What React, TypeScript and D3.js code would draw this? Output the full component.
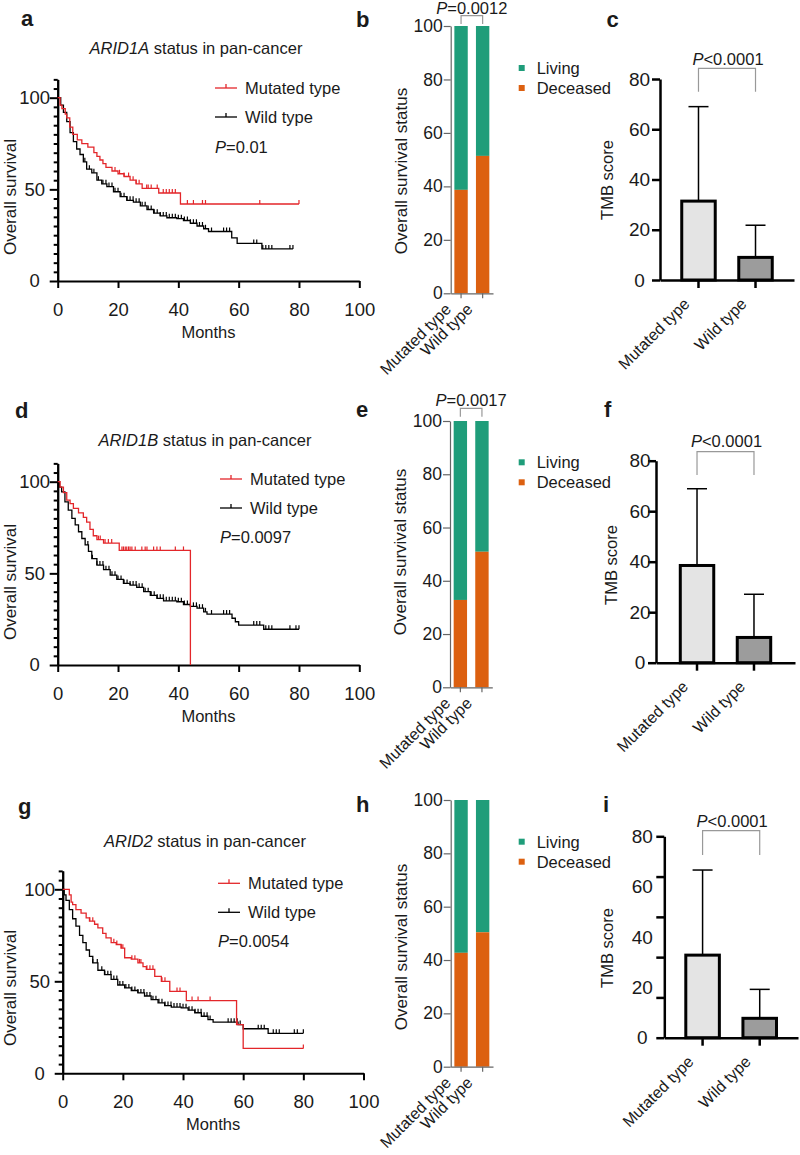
import * as d3 from "d3";
import { useEffect, useRef } from "react";

const FONT = "'Liberation Sans', Arial, Helvetica, sans-serif";
const RED = "#e3262a";
const GREEN = "#1f9d7a";
const ORANGE = "#dc6010";
const INK = "#1a1a1a";

const GROUPS = ["Mutated type", "Wild type"];

// Kaplan-Meier steps: [month, % surviving]
const ARID1A_MUT = [[0, 100], [0.8, 96], [1.4, 94], [2.5, 91], [3, 89], [4, 84], [5, 80], [6.5, 77], [8, 75], [10, 73], [12, 70], [13, 68], [14, 66], [15, 64], [16, 62], [18, 60], [20, 58.5], [22, 57], [24, 55], [26, 53], [28, 50.5], [33.5, 48], [40.7, 42], [80, 42]];
const ARID1A_WT = [[0, 100], [1, 96], [1.9, 92], [3, 87], [4.1, 81], [5.2, 76], [6.3, 72], [7.4, 69], [8.5, 65], [9.6, 61], [11.3, 59], [13, 55], [14.6, 53], [16.3, 51.5], [18.5, 48.7], [20.7, 46], [22.9, 44], [25.1, 43], [27.4, 41], [29.6, 39], [31.8, 37], [34, 35.5], [36.2, 34.5], [39.5, 34], [41.7, 33], [44, 31.5], [46.2, 30], [48.4, 28.5], [50, 27], [57.7, 23.5], [59.5, 20.5], [67.7, 17.5], [78, 17.5]];
const ARID1A_MUT_CENSOR = [19, 20.5, 22, 23.5, 25, 26, 27, 29.5, 30, 31, 33, 35, 36, 37, 38, 39, 43, 45, 48, 49, 67, 80];
const ARID1A_WT_CENSOR = [9, 10.5, 12, 13.5, 15, 16, 17, 18, 19, 20, 21, 22, 23, 24, 25, 26, 27, 28, 29, 30, 31, 32, 33, 34, 35, 36, 37, 38, 39, 40, 41, 42, 43, 44, 45, 46, 47, 48, 49, 51, 55, 56, 57, 65, 66, 68, 69, 70, 71, 77, 78];

const ARID1B_MUT = [[0, 100], [0.8, 97], [1.9, 94], [3, 90], [4.1, 88], [5.2, 85.5], [6.9, 83], [8.5, 80.5], [9.6, 78], [10.7, 74], [11.8, 70.5], [13, 68.4], [15.2, 66.5], [20.4, 62.5], [44, 0]];
const ARID1B_WT = [[0, 100], [0.6, 97], [1.3, 94.5], [2.4, 89], [3.5, 84.5], [4.7, 80], [5.8, 76.4], [6.9, 72.7], [8, 69], [9.1, 65.5], [10.2, 62], [11.3, 58], [13, 54.5], [15.2, 52], [17.4, 49], [19.6, 46.7], [21.8, 44.5], [24, 43.6], [26.2, 42.4], [28.5, 40], [30.7, 38], [32.9, 36.4], [35.1, 35], [39.5, 34.5], [41.7, 33], [44, 32], [46.2, 31], [48.4, 29], [49.5, 27.8], [57.8, 25.5], [58.9, 23.6], [60, 21.8], [68.3, 19.5], [80, 19.5]];
const ARID1B_MUT_CENSOR = [13.5, 14.1, 15.7, 16.8, 17.9, 21.3, 21.8, 22.4, 22.9, 23.5, 24, 24.6, 25.7, 27.9, 29, 29.6, 31.8, 32.9, 34, 39, 41.7];
const ARID1B_WT_CENSOR = [10, 11.5, 13, 14, 15, 16, 17, 18, 19, 20, 21, 22, 23, 24, 25, 26, 27, 28, 29, 30, 31, 32, 33, 34, 35, 36, 37, 38, 39, 40, 41, 42, 43, 44, 45, 46, 47, 48, 49, 51, 55, 56, 57, 65, 66, 67, 69, 70, 71, 77, 79, 80];

const ARID2_MUT = [[0, 100], [2.2, 97], [2.8, 93], [3.3, 91.7], [4.4, 89], [6.1, 87], [7.8, 84.5], [8.9, 82.7], [10.6, 81], [11.7, 79], [13.3, 76], [14.4, 73.6], [16.1, 71], [17.8, 70], [19.4, 68], [20.6, 62.8], [22.8, 62], [25, 60], [26.7, 58], [27.8, 56.5], [30.6, 52.7], [32.8, 50], [35.6, 44.5], [41.1, 39.5], [57.8, 26.5], [60, 13.5], [80, 13.5]];
const ARID2_WT = [[0, 100], [0.5, 97], [1.1, 94], [2.2, 89], [3.3, 84], [4.4, 80], [5.6, 75], [6.7, 71], [7.8, 67], [8.9, 63.5], [10, 60], [11.7, 56], [13.9, 53.6], [16.1, 51], [18.3, 48], [20.6, 46.4], [22.8, 45], [25, 43.7], [27.2, 42], [29.4, 40], [31.7, 38.3], [33.9, 36.8], [36.1, 36], [39.4, 35.6], [41.7, 34.3], [43.9, 32.9], [46.1, 31], [48.3, 29.2], [50, 27.8], [58.3, 26.5], [60, 24.2], [68.3, 21.7], [80, 21.7]];
const ARID2_MUT_CENSOR = [9, 10, 17, 18, 19.5, 20, 23, 24, 25.5, 26, 28, 29, 30, 33, 34, 38, 39, 43, 45, 49, 58, 80];
const ARID2_WT_CENSOR = [10, 11.5, 13, 14, 15, 16, 17, 18, 19, 20, 21, 22, 23, 24, 25, 26, 27, 28, 29, 30, 31, 32, 33, 34, 35, 36, 37, 38, 39, 40, 41, 42, 43, 44, 45, 46, 47, 48, 49, 55, 56, 57, 58, 59, 65, 66, 67, 70, 71, 72, 77, 78, 80];

// % deceased per group (living is the rest)
const DECEASED_ARID1A = [38.7, 51.4];
const DECEASED_ARID1B = [32.8, 50.9];
const DECEASED_ARID2 = [42.7, 50.4];

// TMB score mean and SD per group
const TMB_MEAN_ARID1A = [31.4, 9.0];
const TMB_SD_ARID1A = [37.6, 12.8];
const TMB_MEAN_ARID1B = [38.5, 10.0];
const TMB_SD_ARID1B = [30.4, 17.1];
const TMB_MEAN_ARID2 = [32.8, 7.7];
const TMB_SD_ARID2 = [33.8, 11.5];

const KM_LAYOUT = {
    a: { x0: 57.7, x100: 359.3, y0: 281, y100: 97.7, titleX: 196, titleY: 53.5, legX: 215, legY: 88, pY: 153, yLabX: 16, yLabY: 197, letter: "a", letX: 21, letY: 26 },
    d: { x0: 57.7, x100: 359.3, y0: 665, y100: 481.7, titleX: 205, titleY: 446, legX: 220, legY: 479, pY: 543, yLabX: 16, yLabY: 582, letter: "d", letX: 15, letY: 418 },
    g: { x0: 62.7, x100: 363.5, y0: 1073.3, y100: 889.3, titleX: 205, titleY: 846.5, legX: 218, legY: 883.3, pY: 947, yLabX: 16, yLabY: 988, letter: "g", letX: 18, letY: 814 },
};

const STACK_LAYOUT = {
    b: { ax: 450.7, axEnd: 493, y0: 293.3, y100: 26, legY: 68, pY: 14, brTop: 15.7, brBot: 24, yLabX: 407, yLabY: 171, letter: "b", letX: 356, letY: 27 },
    e: { ax: 450, axEnd: 492.3, y0: 687.3, y100: 421, legY: 462.3, pY: 406, brTop: 408.3, brBot: 416.7, yLabX: 406, yLabY: 552, letter: "e", letX: 356, letY: 417 },
    h: { ax: 450.7, axEnd: 493, y0: 1066.7, y100: 800, legY: 841.7, pY: 0, brTop: 0, brBot: 0, yLabX: 407, yLabY: 947, letter: "h", letX: 356, letY: 812 },
};

const TMB_LAYOUT = {
    c: { ax: 660, axEnd: 794, y0: 280, y80: 79, pO: 0.355, labelOff: -20.5, pY: 65, brTop: 68.3, brBot: 91.7, yLabX: 613, yLabY: 180, letter: "c", letX: 606.5, letY: 26.7, ticks: [0, 20, 40, 60, 80] },
    f: { ax: 656, axEnd: 795, y0: 662.7, y80: 460.7, pO: 0.4, labelOff: -16, pY: 446.7, brTop: 451.7, brBot: 475, yLabX: 617, yLabY: 565, letter: "f", letX: 604, letY: 416.7, ticks: [0, 20, 40, 60, 80] },
    i: { ax: 664.3, axEnd: 798, y0: 1037.7, y80: 836.3, pO: 0.35, labelOff: -22, pY: 826.7, brTop: 830.7, brBot: 855, yLabX: 613, yLabY: 948, letter: "i", letX: 603, letY: 811.7, ticks: [0, 16, 32, 48, 64, 80] },
};

function Axis({ axis, transform, color = "#000", width = 2, fontSize = 18, hideDomain = false, tweak }: any) {
    const ref = useRef<SVGGElement>(null);
    useEffect(() => {
        const g = d3.select(ref.current as SVGGElement);
        g.selectAll("*").remove();
        g.call(axis);
        g.attr("font-family", FONT).attr("font-size", fontSize);
        g.select(".domain").attr("stroke", color).attr("stroke-width", width).attr("display", hideDomain ? "none" : null);
        g.selectAll(".tick line").attr("stroke", color).attr("stroke-width", width);
        g.selectAll(".tick text").attr("fill", INK);
        if (tweak) tweak(g);
    });
    return <g ref={ref} transform={transform} />;
}

function PText({ x, y, text, size = 16.5, anchor = "middle" }: any) {
    return (
        <text x={x} y={y} textAnchor={anchor} fontSize={size} fill={INK}>
            <tspan fontStyle="italic">P</tspan>{text}
        </text>
    );
}

function KMPanel({ L, gene, mut, wt, mutCensor, wtCensor, pValue }: any) {
    const x = d3.scaleLinear([0, 100], [L.x0, L.x100]);
    const y = d3.scaleLinear([0, 110], [L.y0, L.y0 - (L.y0 - L.y100) * 1.1]);
    const line = d3.line<number[]>().x(d => x(d[0])).y(d => y(d[1])).curve(d3.curveStepAfter);
    const survAt = (data: number[][], t: number) => {
        let s = data[0][1];
        data.forEach(([tt, ss]) => { if (tt <= t) s = ss; });
        return s;
    };
    const minor = d3.range(5, 111, 5).filter(v => v % 50 !== 0);
    const series = [
        { data: wt, censor: wtCensor, color: "#000" },
        { data: mut, censor: mutCensor, color: RED },
    ];

    return (
        <g>
            <text x={L.letX} y={L.letY} fontSize={22} fontWeight="bold" fill={INK}>{L.letter}</text>
            <text x={L.titleX} y={L.titleY} textAnchor="middle" fontSize={16.5} fill={INK}>
                <tspan fontStyle="italic">{gene}</tspan> status in pan-cancer
            </text>
            <Axis
                axis={d3.axisLeft(y).tickValues(minor).tickSize(4).tickSizeOuter(0).tickFormat(() => "")}
                transform={`translate(${L.x0},0)`}
            />
            <Axis
                axis={d3.axisLeft(y).tickValues([0, 50, 100]).tickSize(8).tickSizeOuter(0)}
                transform={`translate(${L.x0},0)`}
                fontSize={18.5}
                tweak={(g: any) => g.selectAll(".tick text").attr("text-anchor", "middle").attr("x", -23)}
            />
            <Axis
                axis={d3.axisBottom(x).tickValues([0, 20, 40, 60, 80, 100]).tickSize(7).tickPadding(15).tickSizeOuter(0)}
                transform={`translate(0,${L.y0})`}
                fontSize={18.5}
            />
            {series.map((s, i) => (
                <g key={i} stroke={s.color} fill="none" strokeWidth={1.3}>
                    <path d={line(s.data) as string} />
                    {s.censor.map((t: number, j: number) => {
                        const v = survAt(s.data, t);
                        return <line key={j} x1={x(t)} x2={x(t)} y1={y(v)} y2={y(v) - 4} strokeWidth={1.2} />;
                    })}
                </g>
            ))}
            {[{ label: "Mutated type", color: RED }, { label: "Wild type", color: "#000" }].map((d, i) => {
                const ly = L.legY + i * 29;
                return (
                    <g key={d.label}>
                        <line x1={L.legX} x2={L.legX + 22} y1={ly} y2={ly} stroke={d.color} strokeWidth={1.3} />
                        <line x1={L.legX + 11} x2={L.legX + 11} y1={ly} y2={ly - 4} stroke={d.color} strokeWidth={1.3} />
                        <text x={L.legX + 30} y={ly + 6} fontSize={16.5} fill={INK}>{d.label}</text>
                    </g>
                );
            })}
            <PText x={L.legX} y={L.pY} text={pValue} anchor="start" />
            <text transform={`translate(${L.yLabX},${L.yLabY}) rotate(-90)`} textAnchor="middle" fontSize={17} fill={INK}>Overall survival</text>
            <text x={(L.x0 + L.x100) / 2} y={L.y0 + 57} textAnchor="middle" fontSize={16.5} fill={INK}>Months</text>
        </g>
    );
}

function StackPanel({ L, deceased, pValue }: any) {
    const y = d3.scaleLinear([0, 100], [L.y0, L.y100]);
    const xb = d3.scaleBand(GROUPS, [L.ax, L.axEnd]).paddingInner(0.38).paddingOuter(0.17);
    const bw = xb.bandwidth();
    const cx = (g: string) => (xb(g) as number) + bw / 2;

    return (
        <g>
            <text x={L.letX} y={L.letY} fontSize={22} fontWeight="bold" fill={INK}>{L.letter}</text>
            {GROUPS.map((g, i) => (
                <g key={g}>
                    <rect x={xb(g)} width={bw} y={y(100)} height={y(deceased[i]) - y(100)} fill={GREEN} />
                    <rect x={xb(g)} width={bw} y={y(deceased[i])} height={y(0) - y(deceased[i])} fill={ORANGE} />
                </g>
            ))}
            <Axis
                axis={d3.axisLeft(y).tickValues([0, 20, 40, 60, 80, 100]).tickSize(7).tickPadding(1).tickSizeOuter(0)}
                transform={`translate(${L.ax},0)`}
                color="#666"
                width={1.2}
                fontSize={17.5}
            />
            <Axis
                axis={d3.axisBottom(xb).tickSize(5).tickSizeOuter(0).tickFormat(() => "")}
                transform={`translate(0,${L.y0})`}
                color="#666"
                width={1.2}
            />
            {GROUPS.map(g => (
                <text key={g} transform={`translate(${cx(g) - 9},${L.y0 + 17}) rotate(-45)`} textAnchor="end" fontSize={16} fill={INK}>{g}</text>
            ))}
            {[{ label: "Living", color: GREEN }, { label: "Deceased", color: ORANGE }].map((d, i) => (
                <g key={d.label}>
                    <rect x={518.7} y={L.legY + i * 20 - 3} width={6} height={6} fill={d.color} />
                    <text x={536.7} y={L.legY + i * 20 + 6} fontSize={16.5} fill={INK}>{d.label}</text>
                </g>
            ))}
            {pValue && (
                <g>
                    <path d={`M${cx(GROUPS[0])},${L.brBot}V${L.brTop}H${cx(GROUPS[1])}V${L.brBot}`} fill="none" stroke="#999" strokeWidth={1.2} />
                    <PText x={(cx(GROUPS[0]) + cx(GROUPS[1])) / 2} y={L.pY} text={pValue} />
                </g>
            )}
            <text transform={`translate(${L.yLabX},${L.yLabY}) rotate(-90)`} textAnchor="middle" fontSize={17} fill={INK}>Overall survival status</text>
        </g>
    );
}

function TMBPanel({ L, mean, sd }: any) {
    const y = d3.scaleLinear([0, 80], [L.y0, L.y80]);
    const xb = d3.scaleBand(GROUPS, [L.ax, L.axEnd]).paddingInner(0.36).paddingOuter(L.pO);
    const bw = xb.bandwidth();
    const cx = (g: string) => (xb(g) as number) + bw / 2;
    const fills = ["#e4e4e4", "#9c9c9c"];

    return (
        <g>
            <text x={L.letX} y={L.letY} fontSize={22} fontWeight="bold" fill={INK}>{L.letter}</text>
            {GROUPS.map((g, i) => (
                <g key={g}>
                    <line x1={cx(g)} x2={cx(g)} y1={y(mean[i])} y2={y(mean[i] + sd[i])} stroke="#000" strokeWidth={1.5} />
                    <line x1={cx(g) - 10} x2={cx(g) + 10} y1={y(mean[i] + sd[i])} y2={y(mean[i] + sd[i])} stroke="#000" strokeWidth={1.5} />
                    <rect x={(xb(g) as number) + 1.5} width={bw - 3} y={y(mean[i])} height={y(0) - y(mean[i])} fill={fills[i]} stroke="#000" strokeWidth={3} />
                </g>
            ))}
            <Axis
                axis={d3.axisLeft(y).tickValues(L.ticks).tickSize(8).tickSizeOuter(0).tickFormat(() => "")}
                transform={`translate(${L.ax},0)`}
                width={2.5}
            />
            <Axis
                axis={d3.axisLeft(y).tickValues([0, 20, 40, 60, 80]).tickSize(0).tickSizeOuter(0)}
                transform={`translate(${L.ax},0)`}
                hideDomain
                fontSize={19}
                tweak={(g: any) => g.selectAll(".tick text").attr("text-anchor", "middle").attr("x", L.labelOff)}
            />
            <Axis
                axis={d3.axisBottom(xb).tickSize(8).tickSizeOuter(0).tickFormat(() => "")}
                transform={`translate(0,${L.y0})`}
                width={2.5}
            />
            {GROUPS.map(g => (
                <text key={g} transform={`translate(${cx(g) - 8},${L.y0 + 25}) rotate(-45)`} textAnchor="end" fontSize={16} fill={INK}>{g}</text>
            ))}
            <path d={`M${cx(GROUPS[0])},${L.brBot}V${L.brTop}H${cx(GROUPS[1])}V${L.brBot}`} fill="none" stroke="#999" strokeWidth={1.2} />
            <PText x={(cx(GROUPS[0]) + cx(GROUPS[1])) / 2 + 1} y={L.pY} text="<0.0001" />
            <text transform={`translate(${L.yLabX},${L.yLabY}) rotate(-90)`} textAnchor="middle" fontSize={16.5} fill={INK}>TMB score</text>
        </g>
    );
}

export default function App() {
    return (
        <svg
            width={800}
            height={1155}
            viewBox="0 0 800 1155"
            style={{ position: "absolute", left: 0, top: 0, background: "#fff" }}
            fontFamily={FONT}
        >
            <rect width={800} height={1155} fill="#fff" />
            <KMPanel L={KM_LAYOUT.a} gene="ARID1A" mut={ARID1A_MUT} wt={ARID1A_WT} mutCensor={ARID1A_MUT_CENSOR} wtCensor={ARID1A_WT_CENSOR} pValue="=0.01" />
            <KMPanel L={KM_LAYOUT.d} gene="ARID1B" mut={ARID1B_MUT} wt={ARID1B_WT} mutCensor={ARID1B_MUT_CENSOR} wtCensor={ARID1B_WT_CENSOR} pValue="=0.0097" />
            <KMPanel L={KM_LAYOUT.g} gene="ARID2" mut={ARID2_MUT} wt={ARID2_WT} mutCensor={ARID2_MUT_CENSOR} wtCensor={ARID2_WT_CENSOR} pValue="=0.0054" />
            <StackPanel L={STACK_LAYOUT.b} deceased={DECEASED_ARID1A} pValue="=0.0012" />
            <StackPanel L={STACK_LAYOUT.e} deceased={DECEASED_ARID1B} pValue="=0.0017" />
            <StackPanel L={STACK_LAYOUT.h} deceased={DECEASED_ARID2} />
            <TMBPanel L={TMB_LAYOUT.c} mean={TMB_MEAN_ARID1A} sd={TMB_SD_ARID1A} />
            <TMBPanel L={TMB_LAYOUT.f} mean={TMB_MEAN_ARID1B} sd={TMB_SD_ARID1B} />
            <TMBPanel L={TMB_LAYOUT.i} mean={TMB_MEAN_ARID2} sd={TMB_SD_ARID2} />
        </svg>
    );
}
